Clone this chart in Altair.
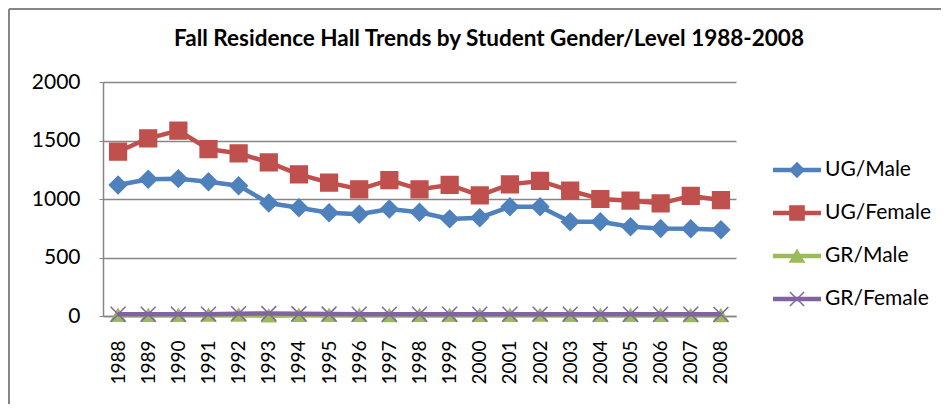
import altair as alt
import pandas as pd

years = ["1988", "1989", "1990", "1991", "1992", "1993", "1994", "1995", "1996", "1997",
         "1998", "1999", "2000", "2001", "2002", "2003", "2004", "2005", "2006", "2007", "2008"]
ug_male = [1120, 1168, 1174, 1148, 1114, 965, 926, 883, 870, 915, 886, 830, 840, 934, 934, 805, 805, 763, 748, 746, 737]
ug_female = [1404, 1519, 1584, 1427, 1390, 1313, 1211, 1140, 1083, 1162, 1083, 1120, 1031, 1125, 1154, 1071, 1000, 986, 963, 1026, 991]
gr_male = [8, 7, 8, 9, 10, 3, 8, 8, 7, 6, 7, 7, 8, 8, 9, 8, 7, 7, 7, 6, 6]
gr_female = [15, 15, 15, 16, 20, 21, 19, 17, 15, 15, 15, 15, 15, 16, 16, 16, 15, 15, 15, 15, 14]

series_names = ["UG/Male", "UG/Female", "GR/Male", "GR/Female"]
series_values = [ug_male, ug_female, gr_male, gr_female]
colors = ["#4F81BD", "#C0504D", "#9BBB59", "#8064A2"]
shapes = ["diamond", "square", "triangle-up", "M-1,-1L1,1M-1,1L1,-1"]
sizes = [300, 280, 200, 220]
y_ticks = [0, 500, 1000, 1500, 2000]
title_text = "Fall Residence Hall Trends by Student Gender/Level 1988-2008"

rows = []
for name, vals in zip(series_names, series_values):
    for yr, v in zip(years, vals):
        rows.append({"year": yr, "value": v, "series": name})
df = pd.DataFrame(rows)

FONT = "Lato"
GRAY = "#868686"

color_scale = alt.Scale(domain=series_names, range=colors)

X = alt.X("year:O", scale=alt.Scale(domain=years),
          axis=alt.Axis(title=None, labelAngle=270, labelFontSize=19, labelFont=FONT,
                        labelColor="black", ticks=False, labelPadding=24,
                        domainColor=GRAY, domainWidth=1.5))
Y = alt.Y("value:Q", scale=alt.Scale(domain=[0, 2000]),
          axis=alt.Axis(title=None, values=y_ticks, format="d", grid=True, gridColor=GRAY, gridWidth=1.3,
                        domainColor=GRAY, domainWidth=1.5, tickColor=GRAY, tickSize=4,
                        labelFontSize=21, labelFont=FONT, labelColor="black", labelPadding=19))

layers = []
for name, col, shp, sz in zip(series_names, colors, shapes, sizes):
    base = alt.Chart(df).transform_filter(alt.datum.series == name)
    lw = 4.5
    layers.append(base.mark_line(strokeWidth=lw).encode(x=X, y=Y, color=alt.value(col)))
    layers.append(base.mark_point(filled=True, opacity=1, strokeWidth=1.5).encode(
        x=X, y=Y, color=alt.value(col), stroke=alt.value(col),
        shape=alt.value(shp), size=alt.value(sz)))
main = alt.layer(*layers)

leg_df = pd.DataFrame({"series": series_names})
y_leg = alt.Y("series:N", scale=alt.Scale(type="point", domain=series_names, range=[88, 217], padding=0),
              axis=None)
leg_base = alt.Chart(leg_df)
leg_rule = leg_base.mark_rule(strokeWidth=4.5).encode(
    x=alt.value(670), x2=alt.value(718), y=y_leg,
    color=alt.Color("series:N", scale=color_scale, legend=None))
leg_pts = leg_base.mark_point(filled=True, opacity=1, strokeWidth=1.5, size=200).encode(
    x=alt.value(694), y=y_leg,
    color=alt.Color("series:N", scale=color_scale, legend=None),
    stroke=alt.Stroke("series:N", scale=color_scale, legend=None),
    shape=alt.Shape("series:N", scale=alt.Scale(domain=series_names, range=shapes), legend=None))
leg_text = leg_base.mark_text(align="left", baseline="middle", fontSize=21, font=FONT, color="black").encode(
    x=alt.value(722), y=y_leg, text="series:N")
legend = alt.layer(leg_rule, leg_pts, leg_text)

frame_df = pd.DataFrame({"k": [0]})
frame_top = alt.Chart(frame_df).mark_rule(color=GRAY, strokeWidth=2).encode(
    x=alt.value(-94), x2=alt.value(840), y=alt.value(-73))
frame_left = alt.Chart(frame_df).mark_rule(color=GRAY, strokeWidth=2).encode(
    x=alt.value(-94), y=alt.value(-73), y2=alt.value(330))
title_mark = alt.Chart(frame_df).mark_text(
    font=FONT, fontSize=22.5, fontWeight="bold", color="black", align="center", baseline="alphabetic").encode(
    x=alt.value(386), y=alt.value(-36), text=alt.value(title_text))
frame = alt.layer(frame_top, frame_left, title_mark)

chart = alt.layer(main, legend, frame).resolve_scale(y="independent").properties(
    width=633, height=234,
    autosize=alt.AutoSizeParams(type="none"),
    padding={"left": 95, "top": 74, "right": 205, "bottom": 88},
    background="white",
).configure_view(strokeWidth=0)

chart.save("out.html", embed_options={"renderer": "svg", "actions": False})
